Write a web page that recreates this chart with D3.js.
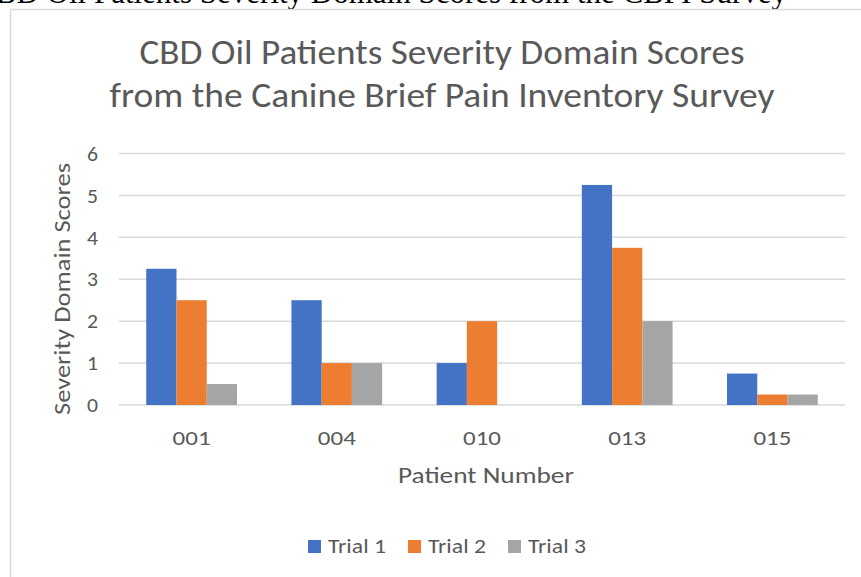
<!DOCTYPE html>
<html><head><meta charset="utf-8">
<script src="https://cdn.jsdelivr.net/npm/d3@7"></script>
<style>html,body{margin:0;padding:0;background:#fff;overflow:hidden}</style>
</head><body>
<script>
const categories = ["001", "004", "010", "013", "015"];
const seriesNames = ["Trial 1", "Trial 2", "Trial 3"];
const trial1 = [3.25, 2.5, 1, 5.25, 0.75];
const trial2 = [2.5, 1, 2, 3.75, 0.25];
const trial3 = [0.5, 1, 0, 2, 0.25];
const yTicks = [0, 1, 2, 3, 4, 5, 6];
const colors = ["#4472C4", "#ED7D31", "#A5A5A5"];
const seriesValues = [trial1, trial2, trial3];

const W = 861, H = 577;
const font = "Carlito, 'Open Sans', 'Liberation Sans', sans-serif";
const txt = "#595959";
const svg = d3.select("body").append("svg").attr("width", W).attr("height", H);

// clipped document caption above chart
svg.append("text").attr("x", 787).attr("y", 3).attr("text-anchor", "end")
  .attr("font-family", "'Liberation Serif', 'Times New Roman', serif").attr("font-size", 31)
  .attr("fill", "#000").text("CBD Oil Patients Severity Domain Scores from the CBPI Survey");

// chart frame
svg.append("rect").attr("x", 10.5).attr("y", 9.5).attr("width", 900).attr("height", 600)
  .attr("fill", "#fff").attr("stroke", "#d9d9d9").attr("stroke-width", 1.5);

// title
const title = svg.append("text").attr("text-anchor", "middle").attr("font-family", font)
  .attr("font-size", 34).attr("fill", txt);
title.append("tspan").attr("x", 442).attr("y", 64).attr("textLength", 605)
  .attr("lengthAdjust", "spacingAndGlyphs").text("CBD Oil Patients Severity Domain Scores");
const t2 = svg.append("text").attr("text-anchor", "middle").attr("font-family", font)
  .attr("font-size", 34).attr("fill", txt).attr("x", 442).attr("y", 107)
  .attr("textLength", 665).attr("lengthAdjust", "spacingAndGlyphs")
  .text("from the Canine Brief Pain Inventory Survey");

const x0 = d3.scaleBand().domain(categories).range([119, 845]).padding(0);
const x1 = d3.scaleBand().domain(seriesNames).range([0, x0.bandwidth()]).paddingInner(0).paddingOuter(0.9);
const y = d3.scaleLinear().domain([0, 6]).range([405, 153.5]);

// gridlines
svg.append("g").selectAll("line").data(yTicks).join("line")
  .attr("x1", 119).attr("x2", 845).attr("y1", d => y(d)).attr("y2", d => y(d))
  .attr("stroke", "#d9d9d9").attr("stroke-width", 1.5);

// y axis labels
const yAxis = svg.append("g").attr("transform", "translate(108,0)")
  .call(d3.axisLeft(y).tickValues(yTicks).tickSize(0).tickPadding(0).tickFormat(d3.format("d")));
yAxis.select(".domain").remove();
yAxis.selectAll("text").attr("font-family", font).attr("font-size", 21).attr("fill", txt)
  .attr("x", -10).attr("textLength", 11).attr("lengthAdjust", "spacingAndGlyphs");

// bars
const data = categories.map((c, i) => ({cat: c, vals: seriesNames.map((s, j) => ({s, j, v: seriesValues[j][i]}))}));
svg.append("g").selectAll("g").data(data).join("g")
  .attr("transform", d => `translate(${x0(d.cat)},0)`)
  .selectAll("rect").data(d => d.vals).join("rect")
  .attr("x", d => x1(d.s)).attr("width", x1.bandwidth())
  .attr("y", d => y(d.v)).attr("height", d => y(0) - y(d.v))
  .attr("fill", d => colors[d.j]);

// x axis labels
const xAxis = svg.append("g").attr("transform", "translate(0,0)")
  .call(d3.axisBottom(x0).tickSize(0).tickPadding(0));
xAxis.select(".domain").remove();
xAxis.selectAll("text").attr("font-family", font).attr("font-size", 21).attr("fill", txt)
  .attr("dy", null).attr("y", 445).attr("textLength", 38).attr("lengthAdjust", "spacingAndGlyphs");

// axis titles
svg.append("text").attr("x", 486).attr("y", 483).attr("text-anchor", "middle")
  .attr("font-family", font).attr("font-size", 22).attr("fill", txt)
  .attr("textLength", 176).attr("lengthAdjust", "spacingAndGlyphs").text("Patient Number");
svg.append("text").attr("transform", "translate(70,289) rotate(-90)").attr("text-anchor", "middle")
  .attr("font-family", font).attr("font-size", 22).attr("fill", txt)
  .attr("textLength", 252).attr("lengthAdjust", "spacingAndGlyphs").text("Severity Domain Scores");

// legend
const legX = [308, 408, 508];
const leg = svg.append("g").selectAll("g").data(seriesNames).join("g")
  .attr("transform", (d, i) => `translate(${legX[i]},540)`);
leg.append("rect").attr("width", 13).attr("height", 13).attr("fill", (d, i) => colors[i]);
leg.append("text").attr("x", 20).attr("y", 13).attr("font-family", font).attr("font-size", 21)
  .attr("fill", txt).attr("textLength", 58).attr("lengthAdjust", "spacingAndGlyphs").text(d => d);
</script>
</body></html>
